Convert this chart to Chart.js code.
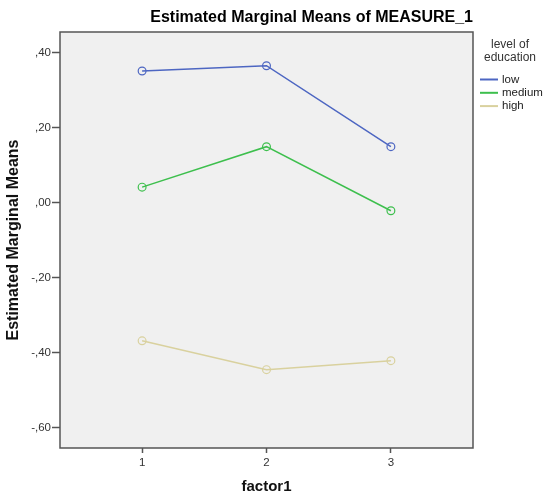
<!DOCTYPE html>
<html>
<head>
<meta charset="utf-8">
<script src="https://cdn.jsdelivr.net/npm/chart.js@4/dist/chart.umd.min.js"></script>
<style>
    html, body { margin: 0; padding: 0; background: #fff; }
    #wrap { width: 549px; height: 503px; position: relative; }
</style>
</head>
<body>
<div id="wrap"><canvas id="emm-chart"></canvas></div>
<script>
// Données
const factorLevels = [1, 2, 3];
const educationLevels = ['low', 'medium', 'high'];
const lowMeans = [0.351, 0.365, 0.149];
const mediumMeans = [0.041, 0.149, -0.022];
const highMeans = [-0.369, -0.446, -0.422];
const yTickValues = [-0.6, -0.4, -0.2, 0, 0.2, 0.4];
const yTickLabels = ['-,60', '-,40', '-,20', ',00', ',20', ',40'];
const legendTitleLines = ['level of', 'education'];
const lineColors = ['#4d66c2', '#3dbf4d', '#d9d19e'];

const FONT = '"Liberation Sans", Arial, sans-serif';

function toPoints(values) {
    return factorLevels.map((f, i) => ({ x: f, y: values[i] }));
}

function makeDataset(label, values, color) {
    return {
        label: label,
        data: toPoints(values),
        borderColor: color,
        backgroundColor: color,
        borderWidth: 1.5,
        pointRadius: 3.9,
        pointHoverRadius: 3.9,
        pointBorderWidth: 1.2,
        pointBorderColor: color,
        pointBackgroundColor: 'rgba(0,0,0,0)',
        tension: 0
    };
}

// Fond gris et cadre du graphique
const plotFrame = {
    id: 'plotFrame',
    beforeDraw(chart) {
        const { ctx, chartArea: a } = chart;
        ctx.save();
        ctx.fillStyle = '#f0f0f0';
        ctx.fillRect(a.left, a.top, a.width, a.height);
        ctx.restore();
    },
    afterDatasetsDraw(chart) {
        const { ctx, chartArea: a } = chart;
        ctx.save();
        ctx.strokeStyle = '#555';
        ctx.lineWidth = 1.5;
        ctx.strokeRect(a.left, a.top, a.width, a.height);
        ctx.restore();
    }
};

// Légende à deux lignes de titre
const educationLegend = {
    id: 'educationLegend',
    afterDraw(chart) {
        const { ctx, chartArea: a } = chart;
        ctx.save();
        ctx.fillStyle = '#333';
        ctx.font = '12px ' + FONT;
        ctx.textAlign = 'center';
        ctx.textBaseline = 'middle';
        legendTitleLines.forEach((line, i) => {
            ctx.fillText(line, a.right + 37, a.top + 13 + i * 13);
        });
        ctx.textAlign = 'left';
        ctx.font = '11.5px ' + FONT;
        chart.data.datasets.forEach((ds, i) => {
            const y = a.top + 47.5 + i * 13.3;
            ctx.strokeStyle = ds.borderColor;
            ctx.lineWidth = 2;
            ctx.beginPath();
            ctx.moveTo(a.right + 7, y);
            ctx.lineTo(a.right + 25, y);
            ctx.stroke();
            ctx.fillStyle = '#222';
            ctx.fillText(ds.label, a.right + 29, y);
        });
        ctx.restore();
    }
};

const ctx = document.getElementById('emm-chart').getContext('2d');
const emmChart = new Chart(ctx, {
    type: 'line',
    data: {
        datasets: [
            makeDataset(educationLevels[0], lowMeans, lineColors[0]),
            makeDataset(educationLevels[1], mediumMeans, lineColors[1]),
            makeDataset(educationLevels[2], highMeans, lineColors[2])
        ]
    },
    plugins: [plotFrame, educationLegend],
    options: {
        responsive: true,
        maintainAspectRatio: false,
        animation: false,
        layout: { padding: { left: 0, right: 76, top: 0, bottom: 0 } },
        plugins: {
            legend: { display: false },
            tooltip: { enabled: false },
            title: {
                display: true,
                text: 'Estimated Marginal Means of MEASURE_1',
                align: 'end',
                fullSize: false,
                color: '#000',
                font: { family: FONT, size: 16, weight: 'bold' },
                padding: { top: 8, bottom: 4.8 }
            }
        },
        scales: {
            x: {
                type: 'linear',
                min: 0.34,
                max: 3.66,
                afterBuildTicks(scale) {
                    scale.ticks = factorLevels.map(v => ({ value: v }));
                },
                afterFit(scale) { scale.height = 55; },
                border: { display: false },
                grid: {
                    drawOnChartArea: false,
                    drawTicks: true,
                    tickLength: 5,
                    tickColor: '#555',
                    tickWidth: 1.5
                },
                ticks: {
                    padding: 3,
                    color: '#333',
                    font: { family: FONT, size: 11.5 },
                    callback: v => String(v)
                },
                title: {
                    display: true,
                    text: 'factor1',
                    color: '#111',
                    font: { family: FONT, size: 15, weight: 'bold' },
                    padding: { top: 0, bottom: 7 }
                }
            },
            y: {
                min: -0.655,
                max: 0.455,
                afterBuildTicks(scale) {
                    scale.ticks = yTickValues.map(v => ({ value: v }));
                },
                afterFit(scale) { scale.width = 60; },
                border: { display: false },
                grid: {
                    drawOnChartArea: false,
                    drawTicks: true,
                    tickLength: 8,
                    tickColor: '#555',
                    tickWidth: 1.5
                },
                ticks: {
                    padding: 1,
                    color: '#333',
                    font: { family: FONT, size: 11.5 },
                    callback: function(v) {
                        const i = yTickValues.findIndex(t => Math.abs(t - v) < 1e-9);
                        return i >= 0 ? yTickLabels[i] : '';
                    }
                },
                title: {
                    display: true,
                    text: 'Estimated Marginal Means',
                    color: '#111',
                    font: { family: FONT, size: 16, weight: 'bold' },
                    padding: { top: 4, bottom: 0 }
                }
            }
        }
    }
});
</script>
</body>
</html>
